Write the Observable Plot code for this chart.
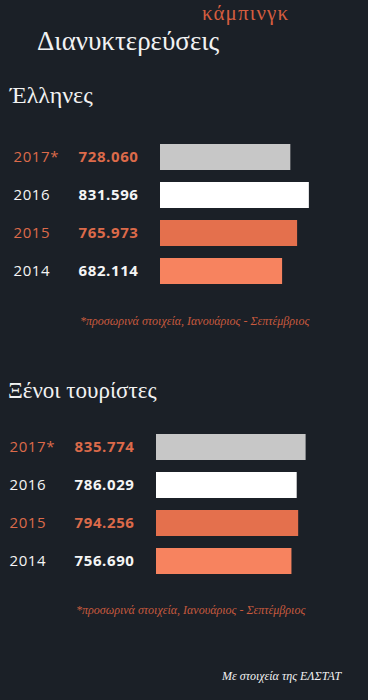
<!DOCTYPE html>
<html>
<head>
<meta charset="utf-8">
<script src="https://cdn.jsdelivr.net/npm/d3@7"></script>
<script src="https://cdn.jsdelivr.net/npm/@observablehq/plot@0.6"></script>
<style>
  html, body { margin: 0; padding: 0; }
  body { width: 368px; height: 700px; background: #1b2027; position: relative; overflow: hidden; }
  .t { position: absolute; white-space: nowrap; line-height: 1; font-family: "Liberation Serif", serif; }
  .plot { position: absolute; left: 0; }
</style>
</head>
<body>
<div class="t" style="left:202px;top:3px;font-size:21px;letter-spacing:1.1px;color:#d45d3f;">κάμπινγκ</div>
<div class="t" style="left:37px;top:28px;font-size:27px;color:#f2f2f2;">Διανυκτερεύσεις</div>
<div class="t" style="left:10px;top:83px;font-size:24px;color:#f2f2f2;">Έλληνες</div>
<div class="t" style="left:80px;top:315px;font-size:12px;font-style:italic;color:#c85a3e;">*προσωρινά στοιχεία, Ιανουάριος - Σεπτέμβριος</div>
<div class="t" style="left:8px;top:379px;font-size:23px;color:#f2f2f2;">Ξένοι τουρίστες</div>
<div class="t" style="left:76px;top:604px;font-size:12px;font-style:italic;color:#c85a3e;">*προσωρινά στοιχεία, Ιανουάριος - Σεπτέμβριος</div>
<div class="t" style="left:222px;top:670px;font-size:12px;font-style:italic;color:#f2f2f2;">Με στοιχεία της ΕΛΣΤΑΤ</div>
<div id="p1" class="plot" style="top:120px;"></div>
<div id="p2" class="plot" style="top:410px;"></div>
<script>
const years = ["2017*", "2016", "2015", "2014"];
const greeks = [728060, 831596, 765973, 682114];
const greekLabels = ["728.060", "831.596", "765.973", "682.114"];
const foreigners = [835774, 786029, 794256, 756690];
const foreignLabels = ["835.774", "786.029", "794.256", "756.690"];
const barColors = ["#c7c7c7", "#ffffff", "#e4704d", "#f7835f"];
const textColors = ["#dc6a4a", "#f5f5f5", "#dc6a4a", "#f5f5f5"];

function panel(values, labels, x0) {
  const data = years.map((y, i) => ({year: y, value: values[i], label: labels[i], bar: barColors[i], txt: textColors[i]}));
  return Plot.plot({
    width: 368,
    height: 180,
    margin: 0,
    style: {background: "transparent", fontFamily: "'Open Sans', sans-serif"},
    x: {domain: [0, 1000000], range: [x0, x0 + 179], axis: null},
    y: {domain: years, range: [10, 178], padding: 0.31, axis: null},
    marks: [
      Plot.barX(data, {x: "value", y: "year", fill: "bar"}),
      Plot.text(data, {x: 0, y: "year", text: "year", fill: "txt", textAnchor: "start", dx: -147, fontSize: 15, fontWeight: 400}),
      Plot.text(data, {x: 0, y: "year", text: "label", fill: "txt", textAnchor: "end", dx: -22, fontSize: 15, fontWeight: 700})
    ]
  });
}
const s1 = panel(greeks, greekLabels, 160);
const s2 = panel(foreigners, foreignLabels, 156);
for (const s of [s1, s2]) s.querySelectorAll("text").forEach(t => t.style.letterSpacing = "0.6px");
document.getElementById("p1").appendChild(s1);
document.getElementById("p2").appendChild(s2);
</script>
</body>
</html>
